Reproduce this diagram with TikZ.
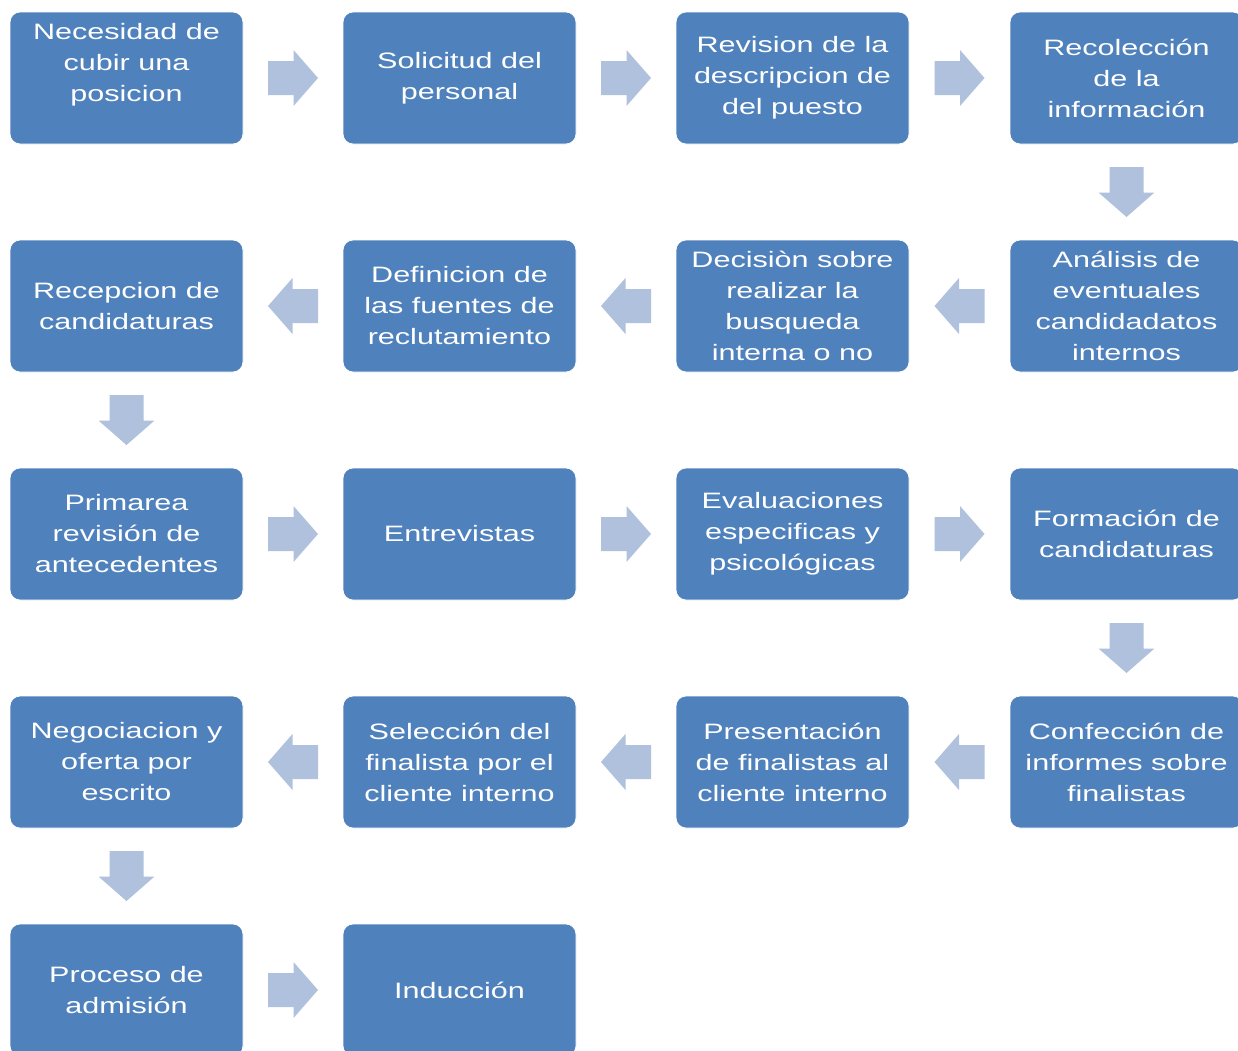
\documentclass[tikz,border=0pt]{standalone}
\usepackage{fontspec}
\setmainfont[FakeStretch=1.37]{Liberation Sans}
\usetikzlibrary{calc}
\definecolor{cajaazul}{HTML}{4F81BD}
\definecolor{flechaazul}{HTML}{AFC1DD}
\tikzset{
  caja/.style = {draw = white, line width = 0.8pt, fill = cajaazul,
    rounded corners = 10pt, minimum width = 233pt, minimum height = 132pt,
    inner sep = 0pt, text = white, align = center,
    font = \fontsize{22.3pt}{31pt}\selectfont}
}
\newcommand{\flecha}[2]{
  \begin{scope}[shift = {#1}, rotate = #2]
    \fill[flechaazul] (-25, -17) -- (0.5, -17) -- (0.5, -28) -- (25, 0)
    -- (0.5, 28) -- (0.5, 17) -- (-25, 17) -- cycle;
  \end{scope}
}

\begin{document}
\begin{tikzpicture}[x = 1pt, y = -1pt]
  \useasboundingbox (0, 0) rectangle (1238, 1050);

  \node[caja] (nec) at (126.5, 78) {Necesidad de\\cubir una\\posicion\\\mbox{}};
  \node[caja] (sol) at (459.5, 78) {Solicitud del\\personal};
  \node[caja] (rev) at (792.5, 78) {Revision de la\\descripcion de\\del puesto};
  \node[caja] (rec) at (1126.5, 78) {Recolección\\de la\\información};

  \node[caja] (ana) at (1126.5, 306) {Análisis de\\eventuales\\candidadatos\\internos};
  \node[caja] (dec) at (792.5, 306) {Decisiòn sobre\\realizar la\\busqueda\\interna o no};
  \node[caja] (def) at (459.5, 306) {Definicion de\\las fuentes de\\reclutamiento};
  \node[caja] (recep) at (126.5, 306) {Recepcion de\\candidaturas};

  \node[caja] (prim) at (126.5, 534) {Primarea\\revisión de\\antecedentes};
  \node[caja] (ent) at (459.5, 534) {Entrevistas};
  \node[caja] (eval) at (792.5, 534) {Evaluaciones\\especificas y\\psicológicas};
  \node[caja] (form) at (1126.5, 534) {Formación de\\candidaturas};

  \node[caja] (conf) at (1126.5, 762) {Confección de\\informes sobre\\finalistas};
  \node[caja] (pres) at (792.5, 762) {Presentación\\de finalistas al\\cliente interno};
  \node[caja] (sel) at (459.5, 762) {Selección del\\finalista por el\\cliente interno};
  \node[caja] (neg) at (126.5, 762) {Negociacion y\\oferta por\\escrito};

  \node[caja] (proc) at (126.5, 990) {Proceso de\\admisión};
  \node[caja] (ind) at (459.5, 990) {Inducción};

  \flecha{($(nec.east)!0.5!(sol.west)$)}{0}
  \flecha{($(sol.east)!0.5!(rev.west)$)}{0}
  \flecha{($(rev.east)!0.5!(rec.west)$)}{0}
  \flecha{($(rec.south)!0.5!(ana.north)$)}{-90}
  \flecha{($(ana.west)!0.5!(dec.east)$)}{180}
  \flecha{($(dec.west)!0.5!(def.east)$)}{180}
  \flecha{($(def.west)!0.5!(recep.east)$)}{180}
  \flecha{($(recep.south)!0.5!(prim.north)$)}{-90}
  \flecha{($(prim.east)!0.5!(ent.west)$)}{0}
  \flecha{($(ent.east)!0.5!(eval.west)$)}{0}
  \flecha{($(eval.east)!0.5!(form.west)$)}{0}
  \flecha{($(form.south)!0.5!(conf.north)$)}{-90}
  \flecha{($(conf.west)!0.5!(pres.east)$)}{180}
  \flecha{($(pres.west)!0.5!(sel.east)$)}{180}
  \flecha{($(sel.west)!0.5!(neg.east)$)}{180}
  \flecha{($(neg.south)!0.5!(proc.north)$)}{-90}
  \flecha{($(proc.east)!0.5!(ind.west)$)}{0}
\end{tikzpicture}
\end{document}
